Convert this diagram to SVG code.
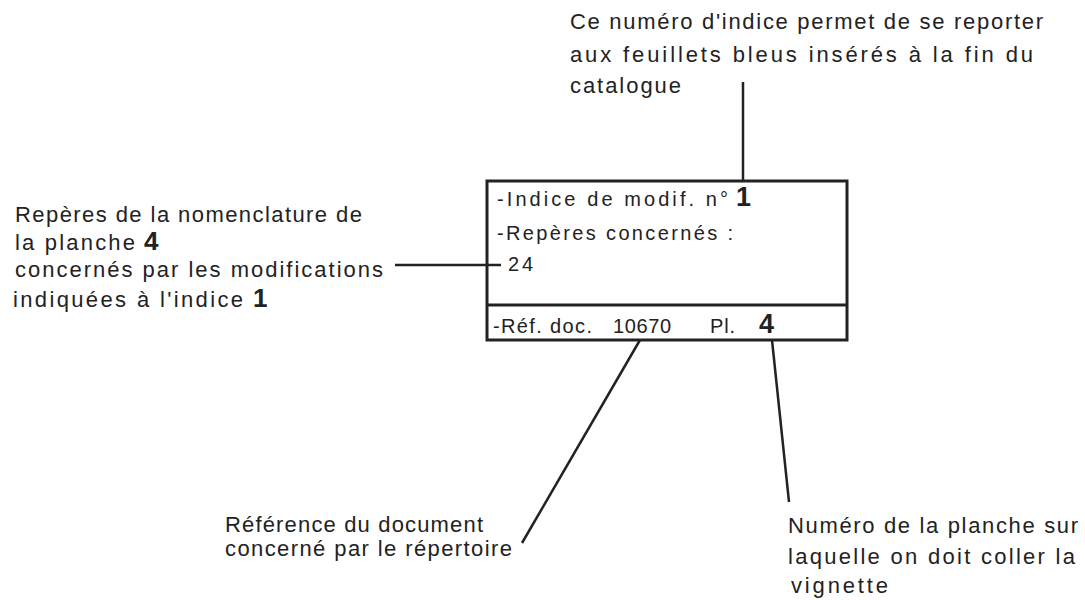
<svg xmlns="http://www.w3.org/2000/svg" width="1085" height="600" viewBox="0 0 1085 600">
<style>
.t{font-family:"Liberation Sans",Arial,sans-serif;font-size:22px;fill:#222}
.b{font-family:"Liberation Sans",Arial,sans-serif;font-size:20px;fill:#222}
.n{font-family:"Liberation Sans",Arial,sans-serif;font-weight:bold;fill:#222}
.ln{stroke:#222;stroke-width:2.5;fill:none}
.bx{stroke:#222;stroke-width:3;fill:none}
</style>
<rect width="1085" height="600" fill="#fff"/>
<g id="connectors">
<line class="ln" x1="743" y1="82" x2="743" y2="181"/>
<line class="ln" x1="395" y1="265" x2="501" y2="265"/>
<line class="ln" x1="640" y1="340" x2="522" y2="543"/>
<line class="ln" x1="772" y1="340" x2="789" y2="502"/>
</g>
<g id="box">
<rect class="bx" x="487" y="181" width="360" height="159"/>
<line class="bx" x1="487" y1="305" x2="847" y2="305"/>
<text class="b" x="497" y="206" textLength="231" lengthAdjust="spacing">-Indice de modif. n°</text>
<text class="n" x="736" y="206" font-size="27">1</text>
<text class="b" x="497" y="240" textLength="236" lengthAdjust="spacing">-Repères concernés :</text>
<text class="b" x="508" y="271" textLength="25" lengthAdjust="spacing">24</text>
<text class="b" x="493" y="333" textLength="99" lengthAdjust="spacing">-Réf. doc.</text>
<text class="b" x="613" y="333" textLength="58" lengthAdjust="spacing">10670</text>
<text class="b" x="710" y="333" textLength="25" lengthAdjust="spacing">Pl.</text>
<text class="n" x="759" y="333" font-size="27">4</text>
</g>
<g id="note-top">
<text class="t" x="570" y="29" textLength="473" lengthAdjust="spacing">Ce numéro d'indice permet de se reporter</text>
<text class="t" x="570" y="62" textLength="463" lengthAdjust="spacing">aux feuillets bleus insérés à la fin  du</text>
<text class="t" x="570" y="93" textLength="111" lengthAdjust="spacing">catalogue</text>
</g>
<g id="note-left">
<text class="t" x="15" y="222" textLength="347" lengthAdjust="spacing">Repères de la nomenclature de</text>
<text class="t" x="15" y="250" textLength="120" lengthAdjust="spacing">la planche</text>
<text class="n" x="144" y="250" font-size="26">4</text>
<text class="t" x="15" y="277" textLength="368" lengthAdjust="spacing">concernés par les modifications</text>
<text class="t" x="13" y="307" textLength="230" lengthAdjust="spacing">indiquées à l'indice</text>
<text class="n" x="253" y="307" font-size="26">1</text>
</g>
<g id="note-bottom-left">
<text class="t" x="225" y="532" textLength="258" lengthAdjust="spacing">Référence du document</text>
<text class="t" x="225" y="556" textLength="287" lengthAdjust="spacing">concerné par le répertoire</text>
</g>
<g id="note-bottom-right">
<text class="t" x="788" y="533" textLength="290" lengthAdjust="spacing">Numéro de la planche sur</text>
<text class="t" x="788" y="564" textLength="287" lengthAdjust="spacing">laquelle on doit coller la</text>
<text class="t" x="791" y="593" textLength="97" lengthAdjust="spacing">vignette</text>
</g>
</svg>
